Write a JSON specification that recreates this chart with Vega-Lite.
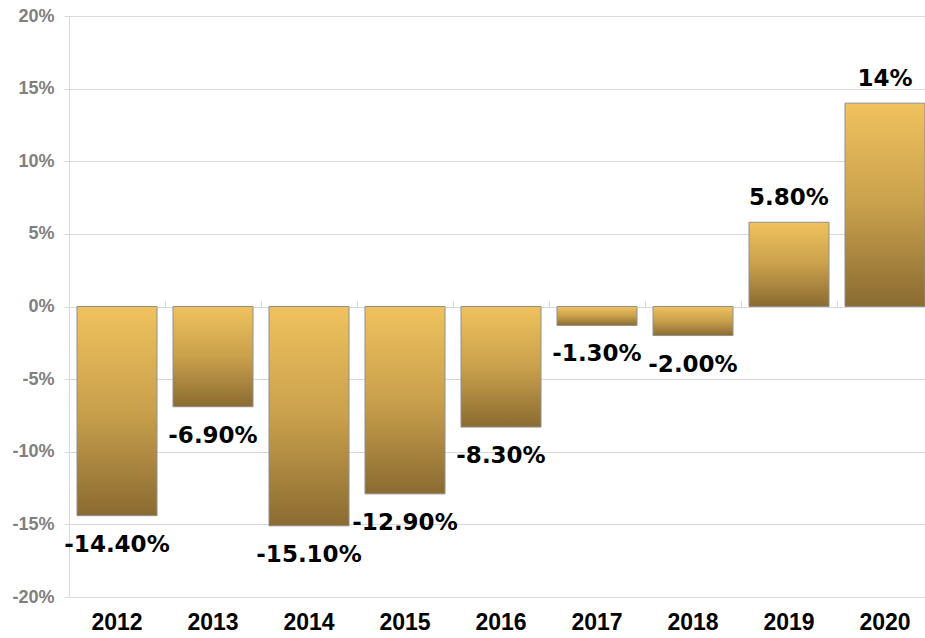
{
  "$schema": "https://vega.github.io/schema/vega-lite/v6.json",
  "autosize": "none",
  "padding": {"left": 69, "top": 16, "right": 0, "bottom": 41},
  "width": 864,
  "height": 581,
  "background": "white",
  "data": {
    "values": [
      {"year": "2012", "value": -14.4, "label": "-14.40%"},
      {"year": "2013", "value": -6.9, "label": "-6.90%"},
      {"year": "2014", "value": -15.1, "label": "-15.10%"},
      {"year": "2015", "value": -12.9, "label": "-12.90%"},
      {"year": "2016", "value": -8.3, "label": "-8.30%"},
      {"year": "2017", "value": -1.3, "label": "-1.30%"},
      {"year": "2018", "value": -2.0, "label": "-2.00%"},
      {"year": "2019", "value": 5.8, "label": "5.80%"},
      {"year": "2020", "value": 14.0, "label": "14%"}
    ]
  },
  "config": {
    "view": {"stroke": null},
    "axis": {"gridColor": "#d9d9d9", "domainColor": "#d9d9d9", "tickColor": "#d9d9d9"}
  },
  "encoding": {
    "x": {
      "field": "year", "type": "nominal", "sort": null,
      "scale": {"paddingInner": 0, "paddingOuter": 0}
    },
    "y": {
      "field": "value", "type": "quantitative",
      "scale": {"domain": [-20, 20], "nice": false, "zero": false}
    }
  },
  "layer": [
    {
      "mark": {
        "type": "bar",
        "width": 80,
        "stroke": "#8f8f8f",
        "strokeWidth": 1,
        "color": {
          "gradient": "linear", "x1": 0, "y1": 0, "x2": 0, "y2": 1,
          "stops": [
            {"offset": 0, "color": "#F0C25E"},
            {"offset": 0.5, "color": "#C9A04C"},
            {"offset": 1, "color": "#8A6B31"}
          ]
        }
      },
      "encoding": {
        "x": {
          "field": "year", "type": "nominal", "sort": null,
          "axis": {
            "title": null, "domain": false, "ticks": false, "labelAngle": 0,
            "labelPadding": 14, "labelFont": "Liberation Sans", "labelFontWeight": "bold",
            "labelFontSize": 23, "labelColor": "#000000"
          }
        },
        "y": {
          "field": "value", "type": "quantitative",
          "axis": {
            "title": null, "values": [-20, -15, -10, -5, 0, 5, 10, 15, 20],
            "labelExpr": "datum.value + '%'", "tickSize": 5, "labelPadding": 10,
            "labelFont": "Liberation Sans", "labelFontWeight": "bold", "labelFontSize": 18,
            "labelColor": "#808080", "domain": true, "grid": true
          }
        }
      }
    },
    {
      "transform": [{"filter": "datum.value >= 0"}],
      "mark": {"type": "text", "baseline": "alphabetic", "dy": -17, "font": "DejaVu Sans", "fontWeight": "bold", "fontSize": 23, "color": "#000000"},
      "encoding": {
        "text": {"field": "label"},
        "x": {
          "field": "year", "type": "nominal", "sort": null,
          "axis": {"title": null, "labels": false, "domain": false, "grid": false, "ticks": true, "tickSize": 6, "bandPosition": 0, "offset": -290.5, "tickColor": "#d9d9d9"}
        }
      }
    },
    {
      "transform": [{"filter": "datum.value < 0"}],
      "mark": {"type": "text", "baseline": "top", "dy": 18, "font": "DejaVu Sans", "fontWeight": "bold", "fontSize": 23, "color": "#000000"},
      "encoding": {
        "text": {"field": "label"},
        "x": {"field": "year", "type": "nominal", "sort": null, "axis": null}
      }
    }
  ],
  "resolve": {"axis": {"x": "independent"}}
}
